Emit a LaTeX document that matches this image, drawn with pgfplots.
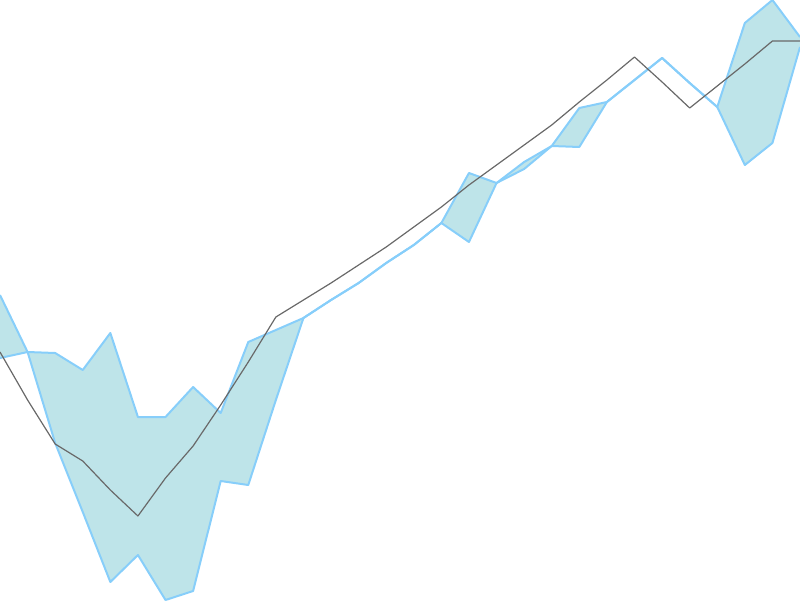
\documentclass[border=0pt]{standalone}
\usepackage{pgfplots}
\usepackage{pgfplotstable}
\pgfplotsset{compat=1.18}
\usepgfplotslibrary{fillbetween}

\definecolor{bandfill}{RGB}{190,228,233}
\definecolor{bandline}{RGB}{135,206,250}
\definecolor{midgray}{RGB}{105,105,105}

% x = step, u/l = band edges, g = gray line
\pgfplotstableread{
x u l g
0 305 242 248
1 248 248 200
2 157 247 156
3 88 230 139
4 18 267 110
5 45 183 84
6 0 183 122
7 9 213 154
8 119 187 195
9 115 258 238
10 200 270 283
11 282 282 300
12 300 300 317
13 317 317 335
14 337 337 353
15 355 355 373
16 377 377 393
17 427 358 415
18 417 417 435
19 438 431 455
20 454 454 475
21 492 453 498
22 498 498 520
23 520 520 543
24 542 542 518
25 517 517 492
26 493 493 514
27 577 435 536
28 600 457 559
29 563 553 559
}\bandtable

\begin{document}
\begin{tikzpicture}
\begin{axis}[
  scale only axis, width=400pt, height=300pt,
  xmin=0, xmax=29, ymin=0, ymax=600,
  hide axis, clip=true, clip bounding box=upper bound,
]
  \addplot[name path=U, draw=none, forget plot] table[x=x, y=u] {\bandtable};
  \addplot[name path=L, draw=none, forget plot] table[x=x, y=l] {\bandtable};
  \addplot[bandfill, forget plot] fill between[of=U and L];
  \addplot[bandline, line width=1pt, line join=round] table[x=x, y=u] {\bandtable};
  \addplot[bandline, line width=1pt, line join=round] table[x=x, y=l] {\bandtable};
  \addplot[midgray, line width=0.6pt, line join=round] table[x=x, y=g] {\bandtable};
\end{axis}
\end{tikzpicture}
\end{document}
